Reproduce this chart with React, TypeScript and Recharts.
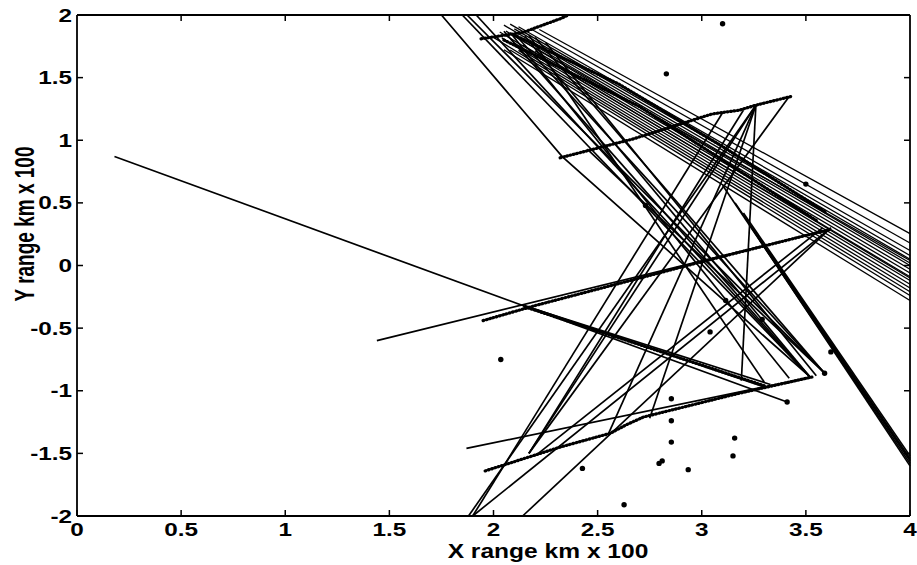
import React from 'react';
import { ComposedChart, Line, Scatter, XAxis, YAxis } from 'recharts';

// ---------- axes ----------
const X_TICKS = [0, 0.5, 1, 1.5, 2, 2.5, 3, 3.5, 4];
const Y_TICKS = [-2, -1.5, -1, -0.5, 0, 0.5, 1, 1.5, 2];
const X_LABEL = 'X range km x 100';
const Y_LABEL = 'Y range km x 100';

// ---------- bundle of near-parallel lines from upper cluster to the right edge (x = 4) ----------
const bundleStartX = [2.22, 2.18, 2.12, 2.08, 2.1, 2.05, 2.15, 2.06, 2.2, 2.03, 2.1, 2.04, 2.12, 2.0, 2.08, 2.05, 2.14, 2.09];
const bundleStartY = [1.884, 1.888, 1.906, 1.927, 1.889, 1.919, 1.802, 1.871, 1.714, 1.864, 1.776, 1.817, 1.718, 1.821, 1.721, 1.723, 1.76, 1.84];
const bundleEndY = [0.255, 0.18, 0.12, 0.08, 0.05, 0.02, 0.0, -0.03, -0.06, -0.09, -0.12, -0.15, -0.18, -0.21, -0.24, -0.28, -0.1, 0.04];

// ---------- other straight segments [x1, y1, x2, y2] ----------
const steepSegments: number[][] = [
  [1.85, 2.0, 3.52, -0.89],
  [1.873, 2.0, 3.59, -0.86],
  [1.917, 2.0, 3.52, -0.89],
  [2.05, 1.87, 3.52, -0.89],
  [2.1, 1.85, 3.59, -0.86],
  [2.15, 1.83, 3.52, -0.89],
  [2.2, 1.82, 3.59, -0.86],
  [2.08, 1.86, 3.42, -0.9],
  [2.17, 1.84, 3.3, -0.93],
  [2.25, 1.78, 3.55, -0.88],
  [2.45, 0.93, 3.59, -0.86],
];
const longSegments: number[][] = [
  [0.18, 0.87, 3.41, -1.09],
  [2.15, -0.32, 3.3, -0.97],
  [2.2, -0.35, 3.33, -0.95],
  [1.44, -0.6, 3.62, 0.29],
  [1.87, -1.46, 3.53, -0.89],
];
const risingSegments: number[][] = [
  [1.88, -2.0, 3.26, 1.28],
  [1.9, -2.0, 3.1, 1.22],
  [1.9, -2.0, 3.62, 0.3],
  [2.14, -2.0, 3.62, 0.3],
  [2.17, -1.5, 3.26, 1.28],
  [2.17, -1.5, 3.2, 1.24],
  [2.17, -1.5, 3.42, 1.35],
  [2.2, -1.52, 3.58, 0.3],
  [3.26, 1.28, 3.19, -0.92],
  [3.26, 1.28, 2.55, -1.35],
  [3.26, 1.28, 2.75, -1.22],
];
const thickSegments: number[][] = [
  [3.1, 0.64, 4.0, -1.58],
  [3.16, 0.5, 4.0, -1.55],
  [3.2, 0.42, 4.0, -1.52],
  [3.24, 0.3, 4.0, -1.6],
  [3.28, 0.2, 4.0, -1.56],
  [3.32, 0.12, 4.0, -1.54],
];

// ---------- polyline with a bend ----------
const bentX = [1.75, 2.33, 3.52];
const bentY = [2.0, 0.87, -0.89];

// ---------- dotted tracks ----------
const track2X = [1.95, 2.2, 3.0, 3.62];
const track2Y = [-0.44, -0.32, 0.03, 0.29];
const track3X = [2.32, 2.67, 3.05, 3.18, 3.26, 3.43];
const track3Y = [0.86, 1.01, 1.21, 1.24, 1.28, 1.35];
const track4X = [1.94, 2.14, 2.32, 2.36];
const track4Y = [1.81, 1.86, 1.97, 2.0];
const track5X = [1.96, 2.32, 2.56, 2.64, 2.72, 3.18, 3.53];
const track5Y = [-1.64, -1.45, -1.34, -1.27, -1.21, -1.02, -0.89];
const trackAX = [2.15, 3.3];
const trackAY = [-0.33, -0.96];
const trackBX = [2.1, 2.6, 3.1, 3.6];
const trackBY = [1.84, 1.45, 0.95, 0.42];
const trackCX = [2.05, 2.7, 3.55];
const trackCY = [1.8, 1.27, 0.36];

// ---------- isolated points ----------
const dotX = [3.1, 2.83, 2.73, 3.5, 2.035, 2.427, 2.627, 2.795, 2.81, 2.854, 2.854, 2.854, 2.935, 3.158, 3.15, 3.04, 3.29, 3.41, 3.59, 3.62, 3.115];
const dotY = [1.93, 1.53, 0.48, 0.65, -0.75, -1.62, -1.91, -1.58, -1.56, -1.064, -1.24, -1.41, -1.63, -1.378, -1.52, -0.53, -0.43, -1.09, -0.86, -0.69, -0.28];

// ---------- layout ----------
const CHART_W = 917;
const CHART_H = 565;
const MARGIN = { top: 15, right: 7, bottom: 0, left: 0 };
const Y_AXIS_W = 77;
const X_AXIS_H = 49;
const PLOT_LEFT = MARGIN.left + Y_AXIS_W;
const PLOT_TOP = MARGIN.top;
const PLOT_RIGHT = CHART_W - MARGIN.right;
const PLOT_BOTTOM = CHART_H - MARGIN.bottom - X_AXIS_H;
const TICK = 6;

// ---------- build series ----------
type Pt = { x: number; y: number };
const seg = (s: number[]): Pt[] => [{ x: s[0], y: s[1] }, { x: s[2], y: s[3] }];
const path = (xs: number[], ys: number[]): Pt[] => xs.map((x, i) => ({ x, y: ys[i] }));

const X_MIN = X_TICKS[0];
const X_MAX = X_TICKS[X_TICKS.length - 1];
const Y_MIN = Y_TICKS[0];
const Y_MAX = Y_TICKS[Y_TICKS.length - 1];

const bundle: Pt[][] = bundleStartX.map((x, i) => [{ x, y: bundleStartY[i] }, { x: X_MAX, y: bundleEndY[i] }]);
const solidPaths: { pts: Pt[]; w: number }[] = [
  ...bundle.map((pts) => ({ pts, w: 1.3 })),
  ...steepSegments.map((s) => ({ pts: seg(s), w: 1.7 })),
  ...longSegments.map((s) => ({ pts: seg(s), w: 1.7 })),
  ...risingSegments.map((s) => ({ pts: seg(s), w: 1.7 })),
  ...thickSegments.map((s) => ({ pts: seg(s), w: 1.7 })),
  { pts: path(bentX, bentY), w: 1.7 },
];
const dottedPaths: Pt[][] = [
  path(track2X, track2Y),
  path(track3X, track3Y),
  path(track4X, track4Y),
  path(track5X, track5Y),
  path(trackAX, trackAY),
  path(trackBX, trackBY),
  path(trackCX, trackCY),
];
const dots: Pt[] = path(dotX, dotY);

const FONT = '"Liberation Sans", Arial, Helvetica, sans-serif';

// bottom ticks also draw the matching inward tick on the top edge (and the top/right box edges once)
const BottomTick = (props: any) => {
  const { x, y, payload } = props;
  const isFirst = payload.value === X_MIN;
  const isEdge = payload.value === X_MIN || payload.value === X_MAX;
  return (
    <g>
      {isFirst && (
        <g>
          <line x1={PLOT_LEFT} y1={PLOT_TOP} x2={PLOT_RIGHT} y2={PLOT_TOP} stroke="#000" strokeWidth={1.8} />
          <line x1={PLOT_RIGHT} y1={PLOT_TOP} x2={PLOT_RIGHT} y2={PLOT_BOTTOM} stroke="#000" strokeWidth={1.8} />
        </g>
      )}
      <line x1={x} y1={y} x2={x} y2={y - TICK} stroke="#000" strokeWidth={1.5} />
      {!isEdge && <line x1={x} y1={PLOT_TOP} x2={x} y2={PLOT_TOP + TICK} stroke="#000" strokeWidth={1.5} />}
      <text
        transform={`translate(${x},${y + 20}) scale(1.35,1)`}
        textAnchor="middle"
        fontSize={18}
        fontFamily={FONT}
        fontWeight="bold"
        fill="#000"
      >
        {String(payload.value)}
      </text>
    </g>
  );
};
// left ticks also draw the matching inward tick on the right edge
const LeftTick = (props: any) => {
  const { x, y, payload } = props;
  const isEdge = payload.value === Y_MIN || payload.value === Y_MAX;
  return (
    <g>
      <line x1={x} y1={y} x2={x + TICK} y2={y} stroke="#000" strokeWidth={1.5} />
      {!isEdge && <line x1={PLOT_RIGHT} y1={y} x2={PLOT_RIGHT - TICK} y2={y} stroke="#000" strokeWidth={1.5} />}
      <text
        transform={`translate(${x - 5},${y + 6.5}) scale(1.35,1)`}
        textAnchor="end"
        fontSize={18}
        fontFamily={FONT}
        fontWeight="bold"
        fill="#000"
      >
        {String(payload.value)}
      </text>
    </g>
  );
};

const DotShape = (props: any) => <circle cx={props.cx} cy={props.cy} r={2.7} fill="#000" />;

export default function App() {
  return (
    <div style={{ position: 'absolute', left: 0, top: 0, background: '#fff' }}>
      <ComposedChart width={CHART_W} height={CHART_H} margin={MARGIN}>
        <XAxis
          type="number"
          dataKey="x"
          domain={[X_MIN, X_MAX]}
          ticks={X_TICKS}
          height={X_AXIS_H}
          tickSize={0}
          tickMargin={0}
          tickLine={false}
          tick={BottomTick}
          interval={0}
          axisLine={{ stroke: '#000', strokeWidth: 1.8 }}
          label={{
            content: () => (
              <text
                transform="translate(548,558) scale(1.17,1)"
                textAnchor="middle"
                fontSize={21}
                fontFamily={FONT}
                fontWeight="bold"
                fill="#000"
              >
                {X_LABEL}
              </text>
            ),
          }}
        />
        <YAxis
          type="number"
          dataKey="y"
          domain={[Y_MIN, Y_MAX]}
          ticks={Y_TICKS}
          width={Y_AXIS_W}
          tickSize={0}
          tickMargin={0}
          tickLine={false}
          tick={LeftTick}
          interval={0}
          axisLine={{ stroke: '#000', strokeWidth: 1.8 }}
          label={{
            content: () => (
              <text
                transform="translate(34,224) rotate(-90) scale(1,1.5)"
                textAnchor="middle"
                fontSize={19}
                fontFamily={FONT}
                fontWeight="bold"
                fill="#000"
              >
                {Y_LABEL}
              </text>
            ),
          }}
        />
        {solidPaths.map((p, i) => (
          <Line
            key={`s${i}`}
            data={p.pts}
            dataKey="y"
            type="linear"
            stroke="#000"
            strokeWidth={p.w}
            dot={false}
            activeDot={false}
            isAnimationActive={false}
          />
        ))}
        {dottedPaths.map((p, i) => (
          <Line
            key={`d${i}`}
            data={p}
            dataKey="y"
            type="linear"
            stroke="#000"
            strokeWidth={3.2}
            strokeDasharray="0.8 2.6"
            strokeLinecap="round"
            dot={false}
            activeDot={false}
            isAnimationActive={false}
          />
        ))}
        {dottedPaths.map((p, i) => (
          <Line
            key={`dl${i}`}
            data={p}
            dataKey="y"
            type="linear"
            stroke="#000"
            strokeWidth={1}
            dot={false}
            activeDot={false}
            isAnimationActive={false}
          />
        ))}
        <Scatter data={dots} dataKey="y" fill="#000" shape={DotShape} isAnimationActive={false} />
      </ComposedChart>
    </div>
  );
}
